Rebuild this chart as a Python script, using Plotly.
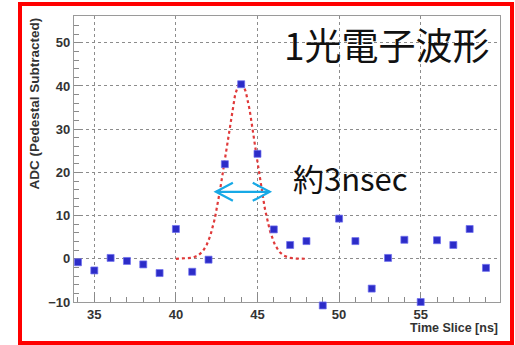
import numpy as np
import plotly.graph_objects as go

# Time slices [ns] and pedestal-subtracted ADC counts
time_slice = [34, 35, 36, 37, 38, 39, 40, 41, 42, 43, 44, 45, 46,
              47, 48, 49, 50, 51, 52, 53, 54, 55, 56, 57, 58, 59]
adc = [-0.8, -2.7, 0.2, -0.5, -1.3, -3.3, 6.9, -3.0, -0.2, 21.9, 40.4, 24.3, 6.8,
       3.2, 4.1, -10.8, 9.3, 4.1, -6.9, 0.2, 4.4, -10.0, 4.3, 3.2, 6.9, -2.1]

# Gaussian fit of the single photo-electron pulse
fit_amp = 40.7
fit_mean = 43.98
fit_sigma = 0.93
fit_range = (40.0, 48.0)

# Width marker (double arrow) in data units
width_x = (42.45, 45.75)
width_y = 15.5

x_range = [33.756, 59.86]
y_range = [-10.07, 56.2]

# Pixel geometry of the frame
fig_w, fig_h = 515, 345
m_l, m_r, m_t, m_b = 74, 15, 16, 35
plot_h = fig_h - m_t - m_b
axis_gap = 7.7                      # px between paper bottom of plot area and x axis line
y_dom0 = axis_gap / plot_h
px_per_unit = (plot_h - axis_gap) / (y_range[1] - y_range[0])
# Marker axis: same scale, spans the full height so points just below the frame stay visible
y2_range = [y_range[0] - axis_gap / px_per_unit, y_range[1]]

fx = np.linspace(fit_range[0], fit_range[1], 200)
fy = fit_amp * np.exp(-0.5 * ((fx - fit_mean) / fit_sigma) ** 2)

fig = go.Figure()
fig.add_trace(go.Scatter(
    x=fx, y=fy, mode="lines",
    line=dict(color="#e03a3a", width=2.2, dash="dot"),
    hoverinfo="skip",
))
fig.add_trace(go.Scatter(
    x=time_slice, y=adc, mode="markers", xaxis="x2", yaxis="y2",
    marker=dict(symbol="square", size=7, color="#2c2cc8",
                line=dict(color="rgba(110,110,240,0.7)", width=1)),
    cliponaxis=False,
))

tick_font = dict(family="Liberation Sans, Arial", size=13, color="#333333", weight="bold")
axis_common = dict(
    showline=True, linecolor="#9a9a9a", linewidth=1.3, mirror=True,
    ticks="inside", ticklen=8, tickcolor="#8a8a8a", tickwidth=1.3,
    showgrid=True, gridcolor="#8c8c8c", griddash="dot", gridwidth=1,
    zeroline=False, tickfont=tick_font,
)

fig.update_layout(
    xaxis=dict(range=x_range, tickvals=[35, 40, 45, 50, 55],
               minor=dict(dtick=1, tick0=0, ticks="inside", ticklen=5,
                          tickcolor="#8a8a8a", showgrid=False),
               **axis_common),
    yaxis=dict(range=y_range, domain=[y_dom0, 1],
               tickvals=[-10, 0, 10, 20, 30, 40, 50],
               ticktext=["\u221210", "0", "10", "20", "30", "40", "50"],
               minor=dict(dtick=2, tick0=0, ticks="inside", ticklen=5,
                          tickcolor="#8a8a8a", showgrid=False),
               **axis_common),
    xaxis2=dict(range=x_range, overlaying="x", visible=False, anchor="y2"),
    yaxis2=dict(range=y2_range, domain=[0, 1], visible=False, anchor="x2"),
)

# Double-headed width arrow
arrow_color = "#17a9e6"
shapes = [
    dict(type="line", xref="x", yref="y", x0=width_x[0], x1=width_x[1],
         y0=width_y, y1=width_y, line=dict(color=arrow_color, width=2.2)),
    dict(type="path", xref="x", yref="y", xsizemode="pixel", ysizemode="pixel",
         xanchor=width_x[0], yanchor=width_y, path="M 17 9 L 0 0 L 17 -9",
         line=dict(color=arrow_color, width=2.2)),
    dict(type="path", xref="x", yref="y", xsizemode="pixel", ysizemode="pixel",
         xanchor=width_x[1], yanchor=width_y, path="M -17 9 L 0 0 L -17 -9",
         line=dict(color=arrow_color, width=2.2)),
    # red outline around the figure
    dict(type="rect", xref="paper", yref="paper", xsizemode="pixel", ysizemode="pixel",
         xanchor=0, yanchor=0, x0=-54, x1=438, y0=-33, y1=306,
         line=dict(color="#ff0000", width=4)),
]

annotations = [
    dict(text="1光電子波形", xref="paper", yref="paper", x=0.734, y=(fig_h - m_b - 44) / plot_h,
         xanchor="center", yanchor="middle", showarrow=False,
         font=dict(family="Noto Sans CJK JP", size=37, color="#111111")),
    dict(text="約3nsec", xref="paper", yref="paper", x=0.648, y=(fig_h - m_b - 178) / plot_h,
         xanchor="center", yanchor="middle", showarrow=False,
         font=dict(family="Noto Sans CJK JP", size=31, color="#111111")),
    dict(text="ADC (Pedestal Subtracted)", xref="paper", yref="paper",
         x=-0.095, y=1.0, xanchor="center", yanchor="top", textangle=-90,
         showarrow=False,
         font=dict(family="Liberation Sans, Arial", size=13.5, color="#333333", weight="bold")),
    dict(text="Time Slice [ns]", xref="paper", yref="paper",
         x=1.0, y=(fig_h - m_b - 328) / plot_h, xanchor="right", yanchor="middle",
         showarrow=False,
         font=dict(family="Liberation Sans, Arial", size=12.5, color="#333333", weight="bold")),
]

fig.update_layout(
    width=fig_w, height=fig_h,
    margin=dict(l=m_l, r=m_r, t=m_t, b=m_b),
    paper_bgcolor="white", plot_bgcolor="rgba(0,0,0,0)",
    showlegend=False,
    shapes=shapes, annotations=annotations,
)

fig.write_html("out.html")
